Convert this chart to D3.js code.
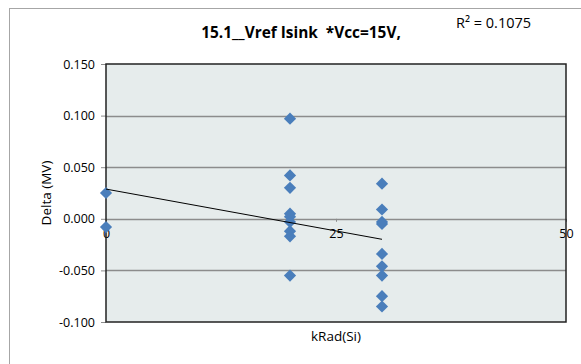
<!DOCTYPE html>
<html>
<head>
<meta charset="utf-8">
<script src="https://cdn.jsdelivr.net/npm/d3@7"></script>
<style>
  body { margin: 0; background: #fff; }
  text { font-family: "Open Sans", Lato, sans-serif; fill: #000; white-space: pre; }
</style>
</head>
<body>
<div id="chart"></div>
<script>
// data
var kRad = [0, 0,
  20, 20, 20, 20, 20, 20, 20, 20, 20,
  30, 30, 30, 30, 30, 30, 30, 30, 30];
var delta = [0.025, -0.008,
  0.097, 0.042, 0.030, 0.005, 0.002, -0.003, -0.012, -0.017, -0.055,
  0.034, 0.009, -0.003, -0.005, -0.034, -0.046, -0.055, -0.075, -0.085];
var yTicks = [-0.1, -0.05, 0, 0.05, 0.1, 0.15];
var xTicks = [0, 25, 50];
var title = "15.1__Vref Isink  *Vcc=15V,";
var r2Label = "R\u00b2 = 0.1075";

var svgWidth = 581;
var svgHeight = 364;
var margin = { top: 64, right: 15, bottom: 42, left: 106 };
var width = svgWidth - margin.left - margin.right;
var height = svgHeight - margin.top - margin.bottom;

var svg = d3.select("#chart")
  .append("svg")
  .attr("width", svgWidth)
  .attr("height", svgHeight);

// outer chart border
svg.append("rect")
  .attr("x", 9.5).attr("y", 8.5)
  .attr("width", 600).attr("height", 400)
  .attr("fill", "#fff")
  .attr("stroke", "#a6a6a6");

var chartGroup = svg.append("g")
  .attr("transform", `translate(${margin.left}, ${margin.top})`);

var x = d3.scaleLinear().domain([0, 50]).range([0, width]);
var y = d3.scaleLinear().domain([-0.1, 0.15]).range([height, 0]);

chartGroup.append("rect")
  .attr("width", width).attr("height", height)
  .attr("fill", "#e6ecec");

// gridlines
chartGroup.append("g")
  .selectAll("line")
  .data(yTicks.slice(1, -1))
  .enter()
  .append("line")
  .attr("x1", 0).attr("x2", width)
  .attr("y1", d => Math.round(y(d)) + 0.5)
  .attr("y2", d => Math.round(y(d)) + 0.5)
  .attr("stroke", "#8c8c8c")
  .attr("stroke-width", 1.3);

// y axis
var fmt = d3.format(".3f");
var leftAxis = d3.axisLeft(y)
  .tickValues(yTicks)
  .tickSize(5)
  .tickSizeOuter(0);
var yAxis = chartGroup.append("g").call(leftAxis);
yAxis.select(".domain").remove();
yAxis.selectAll("line").attr("stroke", "#8c8c8c");
yAxis.selectAll("text")
  .attr("font-size", 12.5)
  .attr("dx", -3)
  .text(d => fmt(d).replace("\u2212", "-"));

// x axis sitting on y=0
var bottomAxis = d3.axisBottom(x)
  .tickValues(xTicks)
  .tickSize(3)
  .tickSizeOuter(0);
var xAxis = chartGroup.append("g")
  .attr("transform", `translate(0, ${y(0)})`)
  .call(bottomAxis);
xAxis.select(".domain").remove();
xAxis.selectAll("line").attr("stroke", "#8c8c8c");
xAxis.selectAll("text").attr("font-size", 12.5).attr("dy", "1.05em");

// plot frame
chartGroup.append("rect")
  .attr("width", width).attr("height", height)
  .attr("fill", "none")
  .attr("stroke", "#222")
  .attr("stroke-width", 1.5);

// points
var diamond = d3.symbol().type(d3.symbolDiamond2).size(95);
chartGroup.selectAll("path.pt")
  .data(kRad.map((k, i) => [k, delta[i]]))
  .enter()
  .append("path")
  .attr("class", "pt")
  .attr("d", diamond)
  .attr("transform", d => `translate(${x(d[0])}, ${y(d[1])})`)
  .attr("fill", "#4a7ebb");

// linear trendline
var mx = d3.mean(kRad), my = d3.mean(delta);
var sxy = d3.sum(kRad, (k, i) => (k - mx) * (delta[i] - my));
var sxx = d3.sum(kRad, k => (k - mx) * (k - mx));
var slope = sxy / sxx;
var icpt = my - slope * mx;
var xr = d3.extent(kRad);
chartGroup.append("line")
  .attr("x1", x(xr[0])).attr("y1", y(icpt + slope * xr[0]))
  .attr("x2", x(xr[1])).attr("y2", y(icpt + slope * xr[1]))
  .attr("stroke", "#000")
  .attr("stroke-width", 1);

// titles
svg.append("text")
  .attr("x", 301).attr("y", 38)
  .attr("text-anchor", "middle")
  .attr("font-size", 15.4)
  .attr("font-weight", "bold")
  .text(title);

svg.append("text")
  .attr("x", 456).attr("y", 28)
  .attr("font-size", 14.5)
  .text(r2Label);

svg.append("text")
  .attr("x", margin.left + width / 2).attr("y", 341)
  .attr("text-anchor", "middle")
  .attr("font-size", 13.5)
  .text("kRad(Si)");

svg.append("text")
  .attr("transform", "translate(51, 193) rotate(-90)")
  .attr("text-anchor", "middle")
  .attr("font-size", 13.5)
  .text("Delta (MV)");
</script>
</body>
</html>
